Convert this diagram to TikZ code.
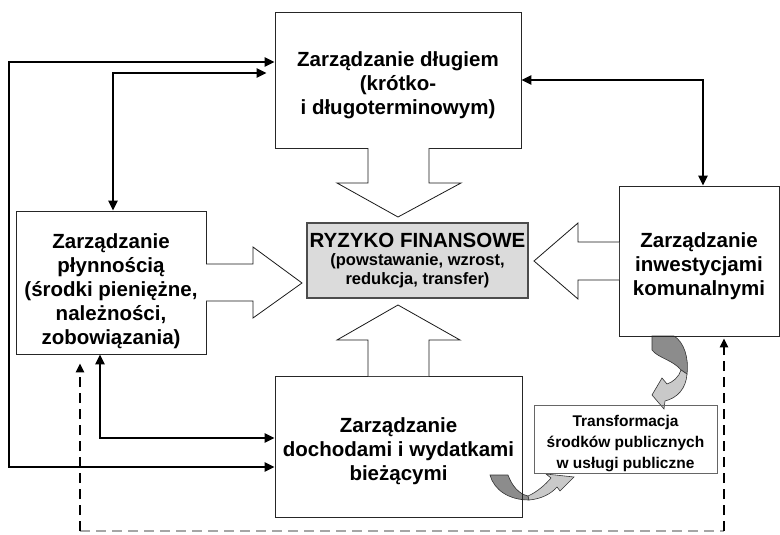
\documentclass[tikz,border=0pt]{standalone}
\usepackage{fontspec}
\setmainfont{Liberation Sans}
\usetikzlibrary{arrows.meta}
\begin{document}
\begin{tikzpicture}[x=1pt,y=-1pt,
  box/.style={draw=black!85,line width=0.8pt,inner sep=0pt,align=center,
    font=\bfseries\fontsize{20.5}{24}\selectfont},
  riskbox/.style={draw=black!70,line width=1.1pt,fill=gray!28,inner sep=0pt,align=center,
    font=\bfseries\fontsize{16.5}{18.5}\selectfont},
  smallbox/.style={draw=black!60,line width=0.8pt,inner sep=0pt,align=center,
    font=\bfseries\fontsize{15.5}{21}\selectfont},
  blockarrow/.style={draw=black!90,line width=0.8pt,fill=white,line join=miter},
  conn/.style={line width=2.8pt,{Triangle[length=10pt,width=9pt]}-{Triangle[length=10pt,width=9pt]}},
  dashconn/.style={line width=2.8pt,dash pattern=on 10pt off 6pt,-{Triangle[length=9pt,width=8pt]}},
  darkpart/.style={draw=black!80,line width=0.6pt,fill=gray!90},
  lightpart/.style={draw=black!80,line width=0.6pt,fill=gray!42},
]
\useasboundingbox (0,0) rectangle (780,535);

% curved arrow from investments box to transformation box
\path[darkpart] (652,336) -- (674,336) .. controls (684,342) and (689,358) .. (687,374)
  -- (681,370) .. controls (673,360) and (658,358) .. (652,350) -- cycle;
\path[lightpart] (687,374) .. controls (686,389) and (677,398) .. (665,401)
  -- (664,409) -- (652,395) -- (662,378) -- (667,384)
  .. controls (673,382) and (679,377) .. (681,370) -- cycle;

% curved arrow from current budget box to transformation box
\path[darkpart] (490,475) -- (508,475) .. controls (512,486) and (519,494) .. (528,496)
  -- (529,500) .. controls (509,500) and (494,490) .. (490,475) -- cycle;
\path[lightpart] (529,500) .. controls (541,499) and (551,494) .. (557,487)
  -- (560,491) -- (574,477) -- (546,474) -- (551,478)
  .. controls (545,485) and (537,492) .. (528,496) -- cycle;

% boxes
\node[box,minimum width=246pt,minimum height=136pt] (top) at (398,80)
  {\rule{0pt}{26pt}Zarządzanie długiem\\(krótko-\\i długoterminowym)};
\node[box,minimum width=190pt,minimum height=143pt] (left) at (111,282.5)
  {\rule{0pt}{33pt}Zarządzanie\\płynnością\\(środki pieniężne,\\należności,\\zobowiązania)};
\node[box,minimum width=247pt,minimum height=141pt] (bottom) at (398.5,446.5)
  {\rule{0pt}{24pt}Zarządzanie\\dochodami i wydatkami\\bieżącymi};
\node[box,minimum width=160pt,minimum height=150pt] (right) at (699,261)
  {\rule{0pt}{25pt}Zarządzanie\\inwestycjami\\komunalnymi};
\node[riskbox,minimum width=221pt,minimum height=75pt] (risk) at (417.5,260.5)
  {{\fontsize{20.5}{18}\selectfont RYZYKO FINANSOWE}\\(powstawanie, wzrost,\\redukcja, transfer)};
\node[smallbox,minimum width=183pt,minimum height=68pt] (trans) at (625.5,439)
  {\rule{0pt}{21pt}Transformacja\\środków publicznych\\w usługi publiczne};

% block arrows towards the risk box
\draw[blockarrow] (368,148) -- (368,183) -- (337,183) -- (398,217) -- (461,183) -- (429,183) -- (429,148);
\draw[blockarrow] (368,376) -- (368,340) -- (337,340) -- (398,305) -- (460,340) -- (429,340) -- (429,376);
\draw[blockarrow] (206,264) -- (253,264) -- (253,247) -- (302,283) -- (253,318) -- (253,301) -- (206,301);
\draw[blockarrow] (619,242) -- (578,242) -- (578,223) -- (534,261) -- (578,299) -- (578,280) -- (619,280);

% solid connectors
\coordinate (c1) at (9,62);
\coordinate (c2) at (9,467);
\coordinate (c3) at (113,73);
\coordinate (c4) at (100,438);
\coordinate (c5) at (703,80);
\draw[conn] (top.west |- c1) -- (c1) -- (c2) -- (bottom.west |- c2);
\draw[conn,shorten <=8pt] (top.west |- c3) -- (c3) -- (left.north -| c3);
\draw[conn] (left.south -| c4) -- (c4) -- (bottom.west |- c4);
\draw[conn] (top.east |- c5) -- (c5) -- (right.north -| c5);

% dashed feedback lines
\coordinate (d1) at (80,531);
\coordinate (d2) at (724,531);
\draw[gray!70,line width=1.6pt,dash pattern=on 10pt off 6pt] (d1) -- (d2);
\draw[dashconn,shorten >=9pt] (d1) -- (left.south -| d1);
\draw[dashconn,shorten >=2pt] (d2) -- (right.south -| d2);
\end{tikzpicture}
\end{document}
